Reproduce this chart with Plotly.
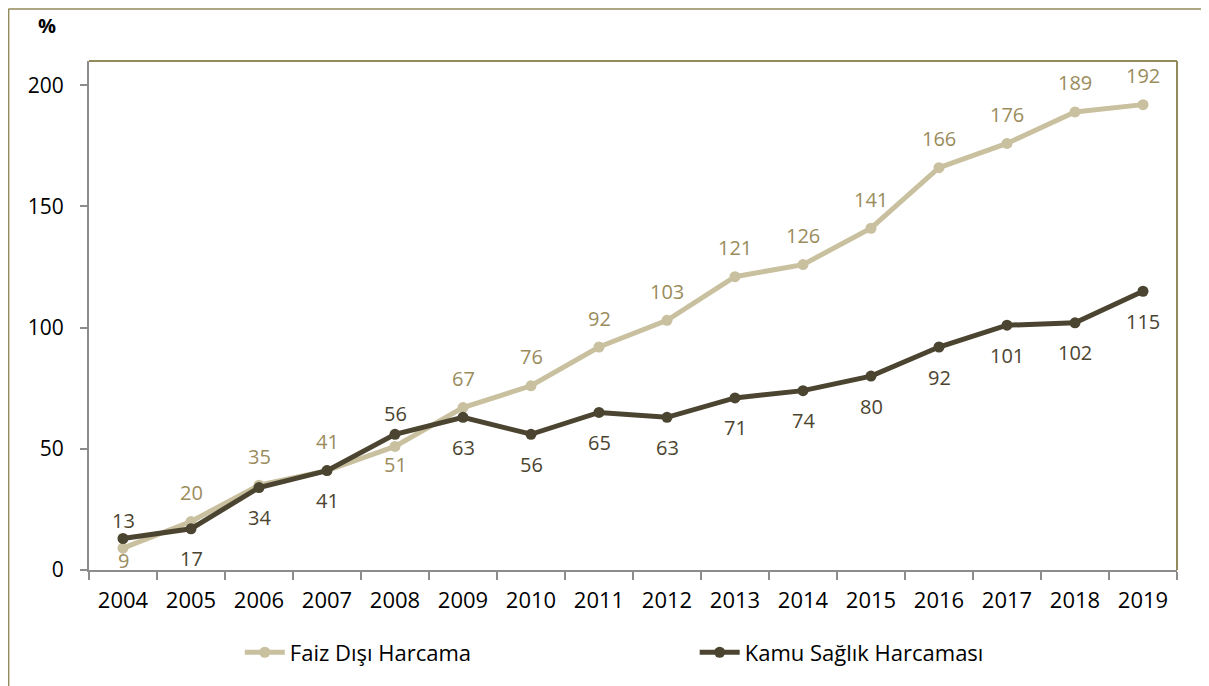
import plotly.graph_objects as go

years = [str(y) for y in range(2004, 2020)]
faiz_disi = [9, 20, 35, 41, 51, 67, 76, 92, 103, 121, 126, 141, 166, 176, 189, 192]
kamu_saglik = [13, 17, 34, 41, 56, 63, 56, 65, 63, 71, 74, 80, 92, 101, 102, 115]

FONT = "Open Sans"
LIGHT = "#C9C09F"
LIGHT_TXT = "#9A8C5C"
DARK = "#4B4430"
DARK_TXT = "#4B4430"
FRAME = "#938A5A"
AXIS = "#8C8C8C"

# label side per point: faiz mostly above, kamu mostly below (like the excel chart)
faiz_below = {"2004": -12, "2008": -18}
kamu_above = {"2004": 18, "2008": 21}

fig = go.Figure()
fig.add_trace(go.Scatter(x=years, y=faiz_disi, mode="lines+markers", name="Faiz Dışı Harcama",
                         line=dict(color=LIGHT, width=5), marker=dict(size=11, color=LIGHT),
                         legend="legend"))
fig.add_trace(go.Scatter(x=years, y=kamu_saglik, mode="lines+markers", name="Kamu Sağlık Harcaması",
                         line=dict(color=DARK, width=5), marker=dict(size=11, color=DARK),
                         legend="legend2"))

# category axis: annotations need the category index, not the label
annotations = []
for i, (yr, v) in enumerate(zip(years, faiz_disi)):
    shift = faiz_below.get(yr, 29)
    annotations.append(dict(x=i, y=v, text=str(v), showarrow=False, yshift=shift,
                            font=dict(family=FONT, size=20, color=LIGHT_TXT)))
for i, (yr, v) in enumerate(zip(years, kamu_saglik)):
    shift = kamu_above.get(yr, -30)
    annotations.append(dict(x=i, y=v, text=str(v), showarrow=False, yshift=shift,
                            font=dict(family=FONT, size=20, color=DARK_TXT)))

annotations.append(dict(x=-0.049, y=1.10, xref="paper", yref="paper", text="<b>%</b>",
                        showarrow=False, font=dict(family=FONT, size=20, color="#000")))

shapes = [
    # olive top/right border of plot area
    dict(type="line", xref="paper", yref="paper", x0=0, x1=1, y0=1, y1=1, line=dict(color=FRAME, width=2)),
    dict(type="line", xref="paper", yref="paper", x0=1, x1=1, y0=0, y1=1, line=dict(color=FRAME, width=2)),
    # outer frame (left + top)
    dict(type="line", xref="paper", yref="paper", x0=-0.0741, x1=-0.0741, y0=-0.25, y1=1.102,
         line=dict(color=FRAME, width=2)),
    dict(type="line", xref="paper", yref="paper", x0=-0.0741, x1=1.05, y0=1.102, y1=1.102,
         line=dict(color=FRAME, width=1.5)),
]

legend_style = dict(orientation="h", yanchor="middle", xanchor="left", y=-0.162,
                    font=dict(family=FONT, size=22, color="#000"), itemwidth=40,
                    bgcolor="rgba(0,0,0,0)")

fig.update_layout(
    width=1201, height=678,
    margin=dict(l=81, r=32, t=53, b=113),
    paper_bgcolor="white", plot_bgcolor="white",
    font=dict(family=FONT, size=22, color="#000"),
    showlegend=True,
    legend=dict(x=0.1386, **legend_style),
    legend2=dict(x=0.5567, **legend_style),
    annotations=annotations,
    shapes=shapes,
)
fig.update_xaxes(type="category", range=[-0.5, 15.5], showline=True, linecolor=AXIS, linewidth=2,
                 ticks="outside", tickson="boundaries", ticklen=8, tickcolor=AXIS, tickwidth=2,
                 showgrid=False, tickangle=0, tickfont=dict(size=22), zeroline=False, automargin=False,
                 ticklabelstandoff=10)
fig.update_yaxes(range=[0, 210], tickvals=[0, 50, 100, 150, 200], showline=True, linecolor=AXIS,
                 linewidth=2, ticks="outside", ticklen=7, tickcolor=AXIS, tickwidth=2,
                 showgrid=False, zeroline=False, tickfont=dict(size=21), automargin=False,
                 ticklabelstandoff=12)

fig.write_html("out.html")
